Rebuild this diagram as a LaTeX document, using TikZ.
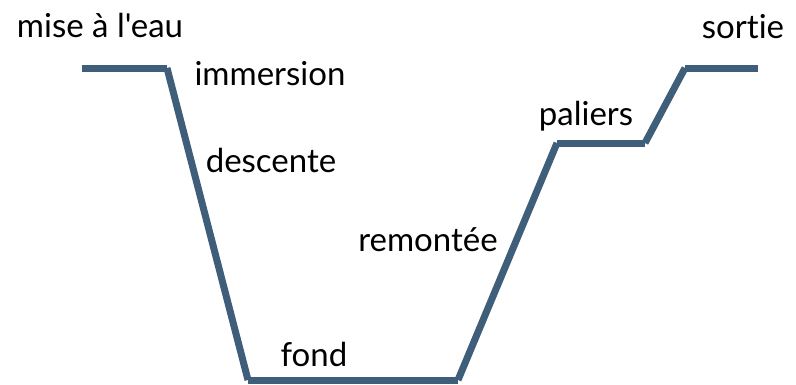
\documentclass[tikz,border=0pt]{standalone}
\usepackage{fontspec}
\setmainfont{Lato}[Ligatures={NoCommon,TeXOff}]
\begin{document}
\begin{tikzpicture}[x=1pt,y=-1pt,
  seg/.style={draw=profile,line width=7pt},
  lbl/.style={inner sep=0pt,font=\fontsize{33}{38}\selectfont,text=black}]
\definecolor{profile}{HTML}{3F5E7A}
\useasboundingbox (0,0) rectangle (796,384);
\coordinate (a) at (82,68);
\coordinate (b) at (167,68);
\coordinate (c) at (248,380);
\coordinate (d) at (458,380);
\coordinate (e) at (557,143);
\coordinate (f) at (645,143);
\coordinate (g) at (685,68);
\coordinate (h) at (758,68);
\draw[seg] (a) -- (b);
\draw[seg] (b) -- (c);
\draw[seg] (c) -- (d);
\draw[seg] (d) -- (e);
\draw[seg] (e) -- (f);
\draw[seg] (f) -- (g);
\draw[seg] (g) -- (h);
\node[lbl] (t1) at (100,25) {mise à l'eau};
\node[lbl] (t2) at (270,74) {immersion};
\node[lbl] (t3) at (271,160) {descente};
\node[lbl] (t4) at (428,240) {remontée};
\node[lbl] (t5) at (314,354) {fond};
\node[lbl] (t6) at (586,116) {paliers};
\node[lbl] (t7) at (743,27) {sortie};
\end{tikzpicture}
\end{document}
